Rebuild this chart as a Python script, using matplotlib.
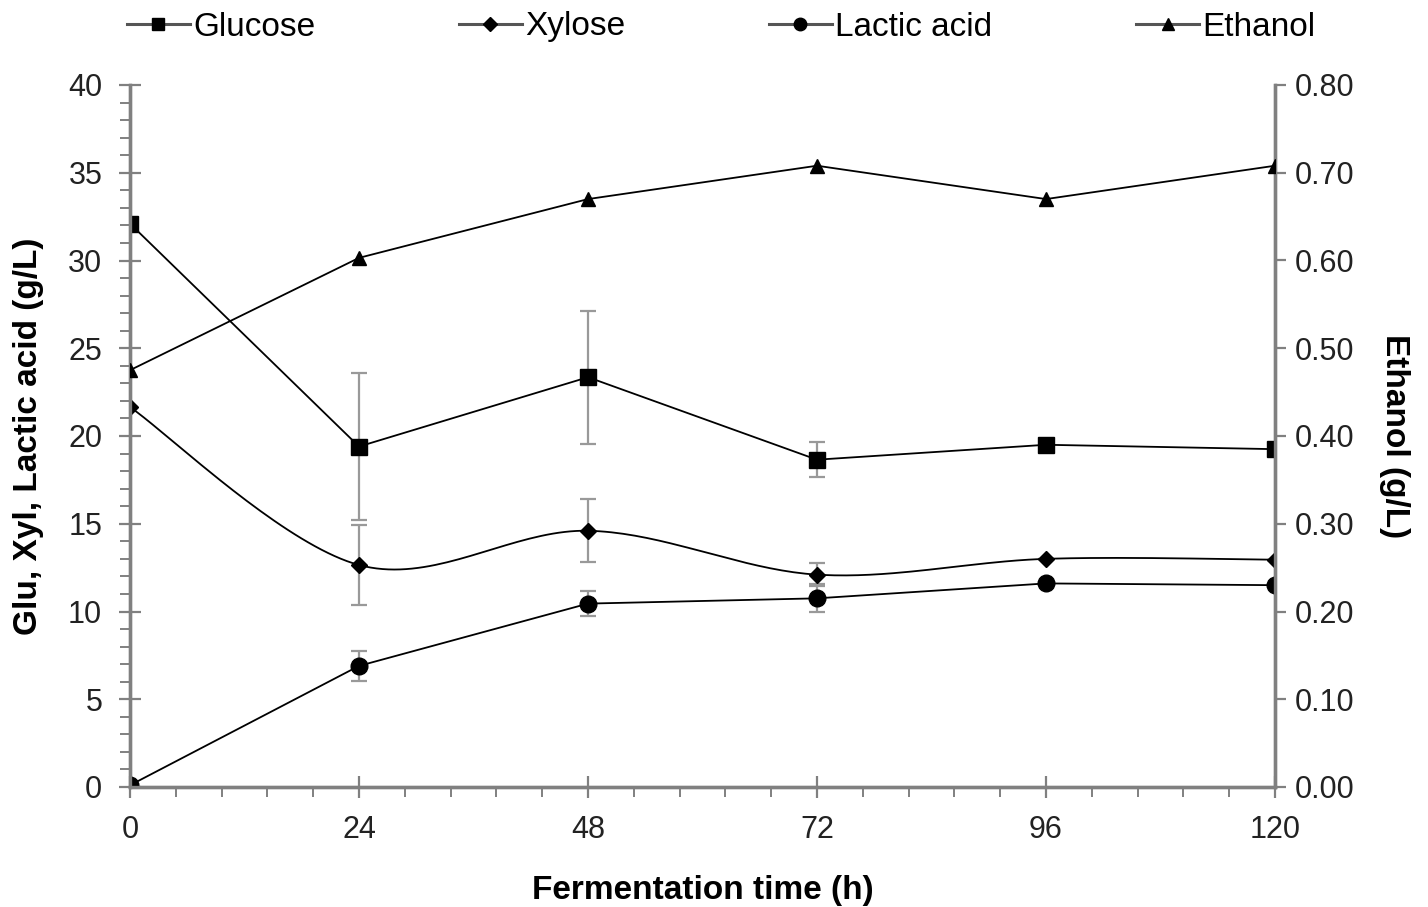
import numpy as np
import matplotlib
matplotlib.use("Agg")
import matplotlib.pyplot as plt
from matplotlib.ticker import MultipleLocator
from matplotlib.lines import Line2D

plt.rcParams['font.family'] = ['Liberation Sans', 'DejaVu Sans']

# ---- data ----
time_h = [0, 24, 48, 72, 96, 120]
glucose = [32.1, 19.4, 23.35, 18.65, 19.5, 19.25]
glucose_err = [0.0, 4.2, 3.8, 1.0, 0.0, 0.3]
xylose = [21.65, 12.65, 14.6, 12.1, 13.0, 12.95]
xylose_err = [0.0, 2.3, 1.8, 0.65, 0.0, 0.0]
lactic = [0.1, 6.9, 10.45, 10.75, 11.6, 11.5]
lactic_err = [0.0, 0.85, 0.7, 0.8, 0.0, 0.0]
ethanol = [0.475, 0.603, 0.670, 0.708, 0.670, 0.708]

legend_labels = ["Glucose", "Xylose", "Lactic acid", "Ethanol"]
xticks = [0, 24, 48, 72, 96, 120]

W, H = 1428, 907
fig = plt.figure(figsize=(W / 100, H / 100), dpi=100)
L, R, T, B = 130, 1275, 85, 787
ax = fig.add_axes([L / W, 1 - B / H, (R - L) / W, (B - T) / H])
ax2 = ax.twinx()

spine_c = '#808080'
err_c = '#999999'


def smooth(xs, ys, n=40):
    # Excel-style smoothed line (Catmull-Rom Bezier) through the data points
    xs = np.asarray(xs, float); ys = np.asarray(ys, float)
    px = np.concatenate([[xs[0]], xs, [xs[-1]]])
    py = np.concatenate([[ys[0]], ys, [ys[-1]]])
    ox, oy = [], []
    t = np.linspace(0, 1, n)
    for i in range(1, len(px) - 2):
        p0 = np.array([px[i], py[i]]); p3 = np.array([px[i + 1], py[i + 1]])
        c1 = p0 + (np.array([px[i + 1], py[i + 1]]) - np.array([px[i - 1], py[i - 1]])) / 6
        c2 = p3 - (np.array([px[i + 2], py[i + 2]]) - np.array([px[i], py[i]])) / 6
        bx = (1 - t) ** 3 * p0[0] + 3 * (1 - t) ** 2 * t * c1[0] + 3 * (1 - t) * t ** 2 * c2[0] + t ** 3 * p3[0]
        by = (1 - t) ** 3 * p0[1] + 3 * (1 - t) ** 2 * t * c1[1] + 3 * (1 - t) * t ** 2 * c2[1] + t ** 3 * p3[1]
        ox.extend(bx); oy.extend(by)
    return ox, oy


ekw = dict(fmt='none', ecolor=err_c, elinewidth=1.6, capsize=6, capthick=1.6, zorder=2)
ax.errorbar(time_h, glucose, yerr=glucose_err, **ekw)
ax.errorbar(time_h, xylose, yerr=xylose_err, **ekw)
ax.errorbar(time_h, lactic, yerr=lactic_err, **ekw)

lkw = dict(color='black', lw=1.3, zorder=3)
ax.plot(time_h, glucose, **lkw)
ax.plot(time_h, glucose, ls='none', marker='s', ms=12, color='black', zorder=4)
sx, sy = smooth(time_h, xylose)
ax.plot(sx, sy, **lkw)
ax.plot(time_h, xylose, ls='none', marker='D', ms=8, color='black', zorder=4)
ax.plot(time_h, lactic, **lkw)
ax.plot(time_h, lactic, ls='none', marker='o', ms=12, color='black', zorder=4)
ax2.plot(time_h, ethanol, color='black', lw=1.3, marker='^', ms=10, zorder=4)

ax.set_xlim(0, 120)
ax.set_ylim(0, 40)
ax2.set_ylim(0, 0.8)
ax.set_xticks(xticks)
ax.set_xticklabels([str(v) for v in xticks])
ax.xaxis.set_minor_locator(MultipleLocator(4.8))
ax.yaxis.set_major_locator(MultipleLocator(5))
ax.yaxis.set_minor_locator(MultipleLocator(1))
ax2.yaxis.set_major_locator(MultipleLocator(0.1))
ax2.set_yticklabels([f"{v:.2f}" for v in ax2.get_yticks()])

for a in (ax, ax2):
    a.spines['top'].set_visible(False)
    for s in ('left', 'right', 'bottom'):
        a.spines[s].set_color(spine_c)
        a.spines[s].set_linewidth(2.4)
    a.set_facecolor('none')

ax.tick_params(axis='both', which='major', direction='inout', length=16, width=1.6,
               color=spine_c, labelsize=22, labelcolor='#222222')
ax.tick_params(axis='both', which='minor', direction='out', length=7, width=1.4, color=spine_c)
ax.tick_params(axis='x', pad=12)
ax.tick_params(axis='y', pad=12)
ax2.tick_params(axis='y', which='major', direction='out', length=8, width=1.6,
                color=spine_c, labelsize=22, labelcolor='#222222', pad=6)

ax.set_xlabel("Fermentation time (h)", fontsize=24, fontweight='bold', labelpad=22)
ax.set_ylabel("Glu, Xyl, Lactic acid (g/L)", fontsize=24, fontweight='bold', labelpad=17)
ax2.set_ylabel("Ethanol (g/L)", fontsize=24, fontweight='bold', rotation=-90, labelpad=40)

handles = [
    Line2D([], [], color='#555555', lw=2.2, marker='s', ms=9, mfc='black', mec='black'),
    Line2D([], [], color='#555555', lw=2.2, marker='D', ms=7, mfc='black', mec='black'),
    Line2D([], [], color='#555555', lw=2.2, marker='o', ms=9, mfc='black', mec='black'),
    Line2D([], [], color='#555555', lw=2.2, marker='^', ms=9, mfc='black', mec='black'),
]
fig.legend(handles, legend_labels, loc='center', bbox_to_anchor=(0.505, 1 - 27 / H),
           ncol=4, frameon=False, fontsize=24, handlelength=1.9, handletextpad=0.1,
           columnspacing=4.3)

fig.savefig("out.png", dpi=100)
